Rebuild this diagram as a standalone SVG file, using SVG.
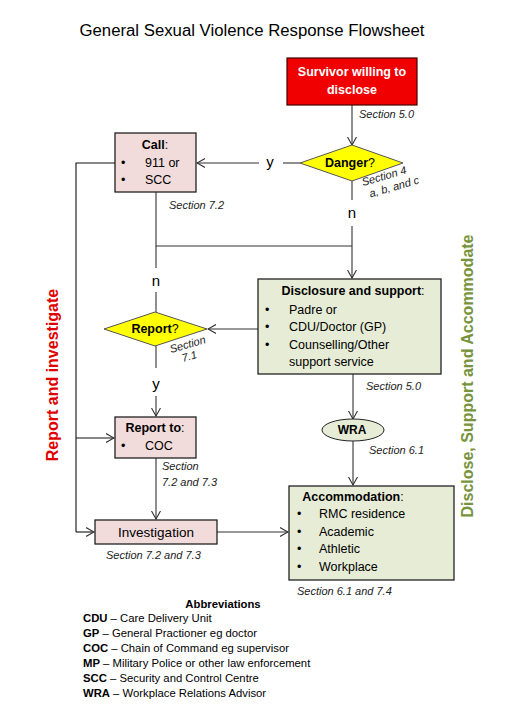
<svg xmlns="http://www.w3.org/2000/svg" width="531" height="725" viewBox="0 0 531 725">
<defs>
<style>
text{font-family:"Liberation Sans",Arial,sans-serif;fill:#000}
.sec{font-size:11px;font-style:italic;fill:#222}
.b{font-weight:bold}
.body{font-size:12.5px}
.lbl{font-size:15px}
.ab{font-size:11.3px}
.conn line,.conn polyline{stroke:#333;stroke-width:1.1;fill:none}
.arr{marker-end:url(#ah)}
.pink{fill:#f2dcdb;stroke:#222;stroke-width:1.3}
.green{fill:#e6ecd6;stroke:#222;stroke-width:1.3}
.yel{fill:#ffff00;stroke:#555;stroke-width:1}
</style>
<marker id="ah" markerWidth="9" markerHeight="10" refX="8" refY="5" orient="auto" markerUnits="userSpaceOnUse">
<path d="M0,0.5 L8,5 L0,9.5" fill="none" stroke="#333" stroke-width="1.1"/>
</marker>
</defs>
<rect width="531" height="725" fill="#fff"/>
<text x="252" y="36" font-size="16" text-anchor="middle" textLength="345" lengthAdjust="spacingAndGlyphs">General Sexual Violence Response Flowsheet</text>

<g class="conn">
<line class="arr" x1="352" y1="105" x2="352" y2="145"/>
<line x1="300" y1="163" x2="283" y2="163"/>
<line class="arr" x1="259" y1="163" x2="197" y2="163"/>
<line x1="352" y1="181" x2="352" y2="200"/>
<line class="arr" x1="352" y1="226" x2="352" y2="278"/>
<polyline points="156,192 156,246 352,246"/>
<line x1="156" y1="246" x2="156" y2="268"/>
<line x1="156" y1="292" x2="156" y2="312"/>
<line class="arr" x1="258" y1="329" x2="208" y2="329"/>
<line x1="156" y1="346" x2="156" y2="368"/>
<line class="arr" x1="156" y1="396" x2="156" y2="416"/>
<polyline points="115,163 76,163 76,532" style="stroke:#111"/>
<line class="arr" x1="76" y1="438" x2="114" y2="438" style="stroke:#111"/>
<line class="arr" x1="76" y1="532" x2="94" y2="532" style="stroke:#111"/>
<line class="arr" x1="156" y1="458" x2="156" y2="519"/>
<line class="arr" x1="217" y1="532" x2="288" y2="532"/>
<line class="arr" x1="353" y1="374" x2="353" y2="419"/>
<line class="arr" x1="353" y1="441" x2="353" y2="485"/>
</g>

<g id="survivor">
<rect x="287" y="58" width="130" height="47" fill="#f00000" stroke="#400" stroke-width="1.2"/>
<text x="352" y="76" class="b" font-size="12.5" text-anchor="middle" style="fill:#fff">Survivor willing to</text>
<text x="352" y="94" class="b" font-size="12.5" text-anchor="middle" style="fill:#fff">disclose</text>
</g>
<text x="359" y="118" class="sec">Section 5.0</text>

<g id="danger">
<polygon class="yel" points="300,163 352,145 403,163 352,181"/>
<text x="350" y="167" font-size="12.5" text-anchor="middle"><tspan class="b">Danger</tspan>?</text>
</g>
<text x="270" y="167" class="lbl" text-anchor="middle">y</text>
<text x="352" y="218" class="lbl" text-anchor="middle">n</text>
<g transform="translate(363,186) rotate(-16)"><text class="sec" x="0" y="0">Section 4</text><text class="sec" x="4" y="13">a, b, and c</text></g>

<g id="call">
<rect class="pink" x="115" y="133" width="81" height="59"/>
<text x="155" y="149" class="body" text-anchor="middle"><tspan class="b">Call</tspan>:</text>
<text x="121" y="167" class="body">•</text>
<text x="145" y="167" class="body">911 or</text>
<text x="121" y="184" class="body">•</text>
<text x="145" y="184" class="body">SCC</text>
</g>
<text x="169" y="209" class="sec">Section 7.2</text>

<g id="disclosure">
<rect class="green" x="258" y="279" width="183" height="95"/>
<text x="353" y="295" class="body" text-anchor="middle"><tspan class="b">Disclosure and support</tspan>:</text>
<text x="265" y="314" class="body">•</text><text x="289" y="314" class="body">Padre or</text>
<text x="265" y="331" class="body">•</text><text x="289" y="331" class="body">CDU/Doctor (GP)</text>
<text x="265" y="349" class="body">•</text><text x="289" y="349" class="body">Counselling/Other</text>
<text x="289" y="366" class="body">support service</text>
</g>
<text x="366" y="390" class="sec">Section 5.0</text>

<g id="report">
<polygon class="yel" points="104,329 155,312 207,329 155,346"/>
<text x="155" y="333" font-size="12.5" text-anchor="middle"><tspan class="b">Report</tspan>?</text>
</g>
<text x="156" y="286" class="lbl" text-anchor="middle">n</text>
<text x="156" y="389" class="lbl" text-anchor="middle">y</text>
<g transform="translate(171,353) rotate(-16)"><text class="sec" x="0" y="0">Section</text><text class="sec" x="9" y="12">7.1</text></g>

<g id="reportto">
<rect class="pink" x="115" y="417" width="81" height="41"/>
<text x="155" y="432" class="body" text-anchor="middle"><tspan class="b">Report to</tspan>:</text>
<text x="121" y="450" class="body">•</text><text x="145" y="450" class="body">COC</text>
</g>
<text x="162" y="470" class="sec">Section</text>
<text x="162" y="486" class="sec">7.2 and 7.3</text>

<g id="investigation">
<rect class="pink" x="95" y="520" width="122" height="24"/>
<text x="156" y="537" font-size="13.5" text-anchor="middle">Investigation</text>
</g>
<text x="106" y="559" class="sec">Section 7.2 and 7.3</text>

<g id="wra">
<ellipse class="green" cx="353" cy="430" rx="31" ry="11" style="stroke-width:1"/>
<text x="352" y="434" class="b" font-size="12" text-anchor="middle">WRA</text>
</g>
<text x="369" y="454" class="sec">Section 6.1</text>

<g id="accommodation">
<rect class="green" x="289" y="486" width="165" height="94"/>
<text x="353" y="501" class="body" text-anchor="middle"><tspan class="b">Accommodation</tspan>:</text>
<text x="297" y="518" class="body">•</text><text x="319" y="518" class="body">RMC residence</text>
<text x="297" y="536" class="body">•</text><text x="319" y="536" class="body">Academic</text>
<text x="297" y="553" class="body">•</text><text x="319" y="553" class="body">Athletic</text>
<text x="297" y="571" class="body">•</text><text x="319" y="571" class="body">Workplace</text>
</g>
<text x="297" y="595" class="sec">Section 6.1 and 7.4</text>

<g id="abbreviations">
<text x="223" y="608" class="ab b" text-anchor="middle">Abbreviations</text>
<text x="83" y="622" class="ab"><tspan class="b">CDU</tspan> – Care Delivery Unit</text>
<text x="83" y="637" class="ab"><tspan class="b">GP</tspan> – General Practioner eg doctor</text>
<text x="83" y="652" class="ab"><tspan class="b">COC</tspan> – Chain of Command  eg supervisor</text>
<text x="83" y="667" class="ab"><tspan class="b">MP</tspan> – Military Police or other law enforcement</text>
<text x="83" y="682" class="ab"><tspan class="b">SCC</tspan> – Security and Control Centre</text>
<text x="83" y="697" class="ab"><tspan class="b">WRA</tspan> – Workplace Relations Advisor</text>
</g>

<text transform="translate(58,375) rotate(-90)" text-anchor="middle" class="b" font-size="16" style="fill:#e00000">Report and investigate</text>
<text transform="translate(473,376) rotate(-90)" text-anchor="middle" font-size="16" style="fill:#77933c;font-weight:600">Disclose, Support and Accommodate</text>
</svg>
